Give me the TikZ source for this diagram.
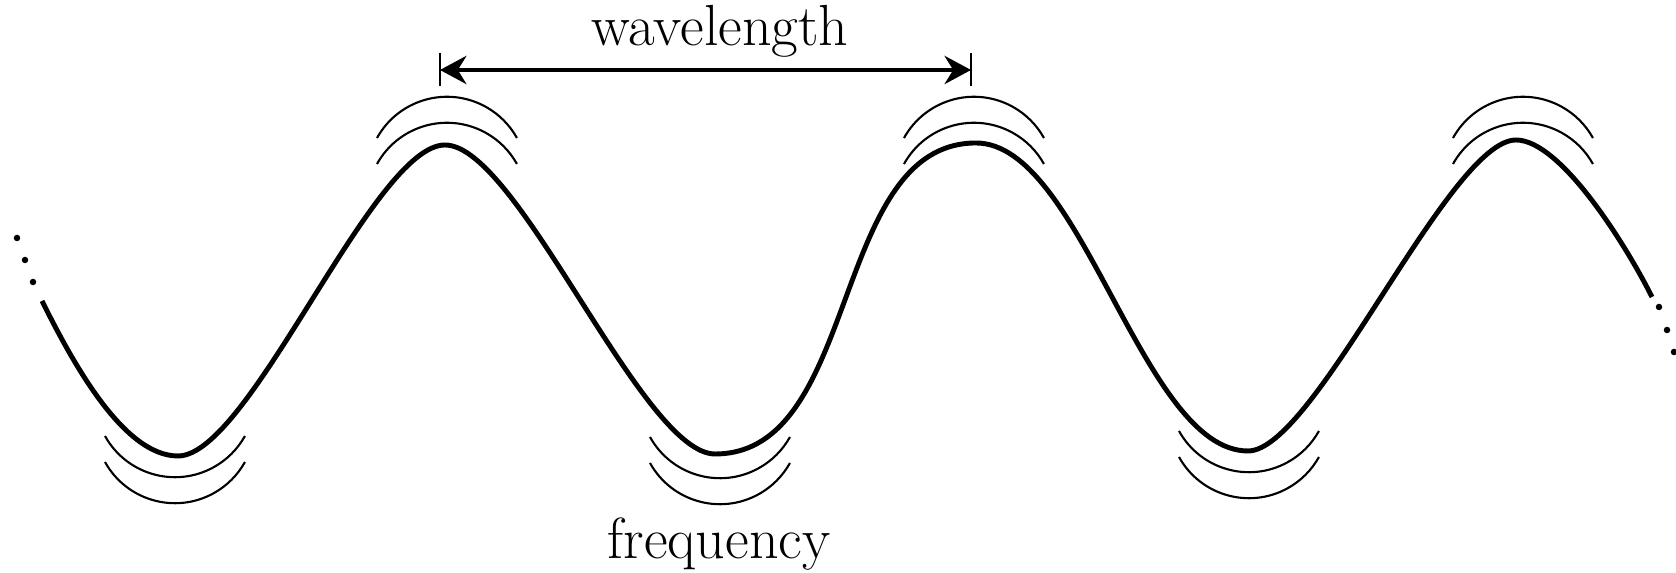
\documentclass[tikz,border=0pt]{standalone}
\usepackage{fontspec}
\usepackage{tikz}
\usetikzlibrary{arrows.meta}

\begin{document}
\begin{tikzpicture}[
  >=Stealth, line width=.6pt,
  wave/.style={line width=1.4pt},
  ripple/.style={line width=.6pt},
  wlarrow/.style={<->, line width=1.3pt, >={Stealth[length=7.5pt,width=8pt]}},
  tick/.style={line width=.6pt},
  dot/.style={circle,fill,inner sep=0pt,minimum size=.65mm},
  lab/.style={font=\fontsize{16.5}{19}\selectfont}
]
  \useasboundingbox (0,0) rectangle (16.76,-5.73);
  % crests and troughs
  \coordinate (w0) at (0.42,-3.01);
  \coordinate (t1) at (1.78,-4.56);
  \coordinate (c1) at (4.45,-1.45);
  \coordinate (t2) at (7.15,-4.54);
  \coordinate (c2) at (9.76,-1.43);
  \coordinate (t3) at (12.48,-4.51);
  \coordinate (c3) at (15.16,-1.40);
  \coordinate (w1) at (16.52,-2.97);
  \draw[wave] (w0) .. controls +(0.30,-0.60) and +(-0.55,0) .. (t1)
    .. controls +(0.72,0) and +(-0.72,0) .. (c1)
    .. controls +(0.73,0) and +(-0.73,0) .. (t2)
    .. controls +(1.46,0) and +(-1.46,0) .. (c2)
    .. controls +(1.06,0) and +(-1.06,0) .. (t3)
    .. controls +(0.67,0) and +(-0.67,0) .. (c3)
    .. controls +(0.45,0) and +(-0.25,0.50) .. (w1);
  % dots at both ends
  \node[dot] (l1) at (0.17,-2.38) {};
  \node[dot] (l2) at (0.25,-2.60) {};
  \node[dot] (l3) at (0.33,-2.82) {};
  \node[dot] (r1) at (16.59,-3.07) {};
  \node[dot] (r2) at (16.67,-3.30) {};
  \node[dot] (r3) at (16.74,-3.52) {};
  % ripples
  \foreach \cx in {4.47,9.74,15.23} {
    \draw[ripple] ({\cx-0.70},-1.64) arc[start angle=151,end angle=29,radius=0.80];
    \draw[ripple] ({\cx-0.70},-1.38) arc[start angle=151,end angle=29,radius=0.80];
  }
  \foreach \cx/\yb in {1.75/4.77,7.20/4.78,12.49/4.72} {
    \draw[ripple] ({\cx-0.70},{0.41-\yb}) arc[start angle=209,end angle=331,radius=0.80];
    \draw[ripple] ({\cx-0.70},{0.15-\yb}) arc[start angle=209,end angle=331,radius=0.80];
  }
  % wavelength
  \coordinate (wl) at (4.40,-0.70);
  \coordinate (wr) at (9.71,-0.70);
  \draw[tick] ([yshift=1.7mm]wl) -- ([yshift=-1.6mm]wl);
  \draw[tick] ([yshift=1.7mm]wr) -- ([yshift=-1.6mm]wr);
  \draw[wlarrow] (wl) -- (wr);
  \node[lab,anchor=base] (wlt) at (7.20,-0.46) {wavelength};
  \node[lab,anchor=base] (fqt) at (7.19,-5.59) {frequency};
\end{tikzpicture}
\end{document}
